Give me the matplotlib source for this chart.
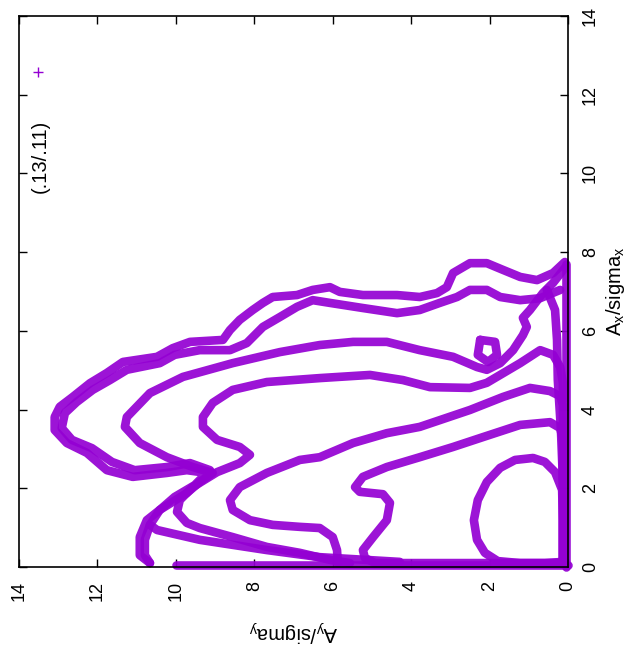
import matplotlib
matplotlib.use("Agg")
import matplotlib.pyplot as plt
import numpy as np

plt.rcParams['font.family'] = ['Liberation Sans', 'DejaVu Sans']
plt.rcParams['mathtext.fontset'] = 'custom'
plt.rcParams['mathtext.rm'] = 'Liberation Sans'

COLOR = '#9400D3'

# ---- data: contour traces (A_y/sigma_y, A_x/sigma_x) ----
c1_ay = [0.13, 0.13, 0.15, 0.33, 0.59, 0.89, 1.35, 1.73, 2.07, 2.30, 2.40, 2.32, 2.12, 1.79, 1.22, 0.59, 0.13]
c1_ax = [0.13, 1.19, 1.96, 2.41, 2.67, 2.77, 2.72, 2.52, 2.16, 1.70, 1.19, 0.69, 0.36, 0.15, 0.10, 0.10, 0.13]

c2_ay = [0.13, 0.13, 0.20, 0.46, 1.22, 2.17, 2.93, 3.78, 4.62, 5.23, 5.43, 5.31, 4.72, 4.54, 4.62, 4.97, 5.23, 5.18, 4.92, 3.01, 0.13]
c2_ax = [0.13, 3.23, 3.53, 3.68, 3.61, 3.30, 3.05, 2.79, 2.54, 2.29, 2.03, 1.91, 1.85, 1.63, 1.19, 0.76, 0.43, 0.23, 0.10, 0.10, 0.10]

c3_ay = [0.13, 0.13, 0.20, 0.46, 0.97, 1.66, 2.50, 3.78, 4.62, 5.48, 6.33, 6.84, 7.68, 8.37, 8.62, 8.55, 8.11, 7.53, 6.84, 6.33, 6.00, 5.89, 5.87]
c3_ax = [0.10, 4.12, 4.34, 4.47, 4.55, 4.32, 3.99, 3.56, 3.40, 3.15, 2.79, 2.72, 2.39, 2.03, 1.70, 1.45, 1.19, 1.07, 1.02, 0.99, 0.76, 0.43, 0.10]

c4_ay = [0.13, 0.13, 0.20, 0.38, 0.71, 1.22, 2.07, 2.50, 3.52, 4.21, 5.05, 6.33, 7.68, 8.55, 9.06, 9.31, 9.31, 8.95, 8.37, 8.11, 8.37, 8.95, 9.57, 9.90, 9.97, 9.72, 9.39, 8.55, 7.68, 6.84, 6.07, 5.56]
c4_ax = [4.24, 4.68, 5.08, 5.39, 5.51, 5.18, 4.68, 4.55, 4.57, 4.75, 4.88, 4.80, 4.70, 4.50, 4.17, 3.81, 3.56, 3.23, 3.05, 2.85, 2.64, 2.41, 2.03, 1.70, 1.40, 1.12, 0.99, 0.76, 0.51, 0.36, 0.18, 0.10]

c5_ay = [0.08, 0.38, 0.64, 0.97, 1.15, 1.05, 1.15, 1.40, 1.73, 2.07, 2.32, 2.93, 3.78, 4.62, 5.48, 6.33, 7.35, 8.55, 9.82, 10.66, 11.25, 11.30, 10.92, 10.23, 9.57, 9.06, 9.39, 9.72, 10.41, 10.74, 10.92, 10.92, 10.66]
c5_ax = [7.60, 7.22, 6.96, 6.53, 6.33, 6.10, 5.89, 5.51, 5.18, 5.01, 5.08, 5.34, 5.51, 5.72, 5.72, 5.64, 5.46, 5.18, 4.83, 4.42, 3.81, 3.56, 3.15, 2.79, 2.54, 2.39, 2.16, 1.88, 1.45, 1.19, 0.76, 0.30, 0.10]

c6_ay = [0.08, 0.38, 0.79, 1.22, 1.66, 2.07, 2.50, 2.93, 3.09, 3.34, 3.78, 4.36, 5.23, 5.82, 6.07, 6.51, 6.91, 7.53, 7.78, 8.04, 8.37, 8.62, 8.80, 9.64, 10.08, 10.48, 11.35, 11.76, 12.19, 12.63, 12.96, 13.09, 13.09, 12.78, 12.27, 11.76, 11.10, 10.23, 9.72, 9.21, 9.52, 10.03, 10.41, 10.66, 10.79, 10.79, 10.66]
c6_ax = [7.75, 7.47, 7.29, 7.37, 7.55, 7.72, 7.72, 7.47, 7.11, 6.96, 6.86, 6.91, 6.91, 6.99, 7.11, 7.04, 6.91, 6.86, 6.71, 6.53, 6.28, 6.02, 5.77, 5.72, 5.56, 5.34, 5.21, 4.93, 4.67, 4.32, 4.07, 3.81, 3.48, 3.15, 2.90, 2.46, 2.29, 2.39, 2.46, 2.39, 2.08, 1.78, 1.45, 1.07, 0.69, 0.30, 0.10]

c7_ay = [0.20, 0.71, 1.22, 1.73, 2.07, 2.50, 2.83, 3.27, 3.78, 4.36, 5.23, 6.07, 6.51, 6.91, 7.35, 7.78, 8.19, 8.62, 9.39, 10.03, 10.41, 11.25, 11.68, 12.12, 12.53, 12.83, 12.91, 12.65, 12.14, 11.63, 11.05, 10.23, 9.64, 9.13]
c7_ax = [7.04, 6.83, 6.78, 6.86, 7.04, 7.04, 6.86, 6.71, 6.53, 6.45, 6.58, 6.71, 6.78, 6.61, 6.35, 6.10, 5.69, 5.51, 5.51, 5.39, 5.18, 5.01, 4.75, 4.50, 4.19, 3.91, 3.53, 3.23, 3.02, 2.67, 2.46, 2.54, 2.64, 2.46]

c8_ay = [10.66, 10.48, 9.39, 7.68, 6.33, 4.29]
c8_ax = [1.07, 0.94, 0.69, 0.43, 0.25, 0.13]

c9_ay = [0.54, 0.33, 0.28, 0.26, 0.18, 0.13]
c9_ax = [7.04, 6.53, 5.77, 4.75, 3.48, 2.21]

blob_ay = [2.24, 1.86, 1.81, 2.04, 2.30, 2.24]
blob_ax = [5.77, 5.72, 5.39, 5.21, 5.39, 5.77]

edge_bottom_ay = [0.0, 10.0]
edge_bottom_ax = [0.05, 0.05]
edge_right_ay = [0.05, 0.05]
edge_right_ax = [0.0, 7.7]

key_label = '(.13/.11)'
xticks = [0, 2, 4, 6, 8, 10, 12, 14]
yticks = [0, 2, 4, 6, 8, 10, 12, 14]

fig = plt.figure(figsize=(6.36, 6.63), dpi=100)
ax = fig.add_axes([19/636, 1 - 567/663, (568-19)/636, (567-16)/663])

curves = [(c1_ay, c1_ax), (c2_ay, c2_ax), (c3_ay, c3_ax), (c4_ay, c4_ax),
          (c5_ay, c5_ax), (c6_ay, c6_ax), (c7_ay, c7_ax), (c8_ay, c8_ax),
          (c9_ay, c9_ax), (blob_ay, blob_ax),
          (edge_bottom_ay, edge_bottom_ax), (edge_right_ay, edge_right_ax)]
for cy, cx in curves:
    ax.plot(cy, cx, '-', color=COLOR, lw=6.2, solid_capstyle='round',
            solid_joinstyle='round', alpha=0.92, clip_on=False, zorder=2)

ax.set_xlim(14, 0)
ax.set_ylim(0, 14)
ax.set_xticks(xticks)
ax.set_yticks(yticks)
ax.set_xticklabels([str(t) for t in xticks], rotation=90, fontsize=13)
ax.set_yticklabels([str(t) for t in yticks], rotation=90, fontsize=13, va='center')
ax.tick_params(axis='both', direction='in', length=6, width=1, pad=10,
               top=True, bottom=True, left=True, right=True,
               labelleft=False, labelright=True, labelbottom=True, labeltop=False)
for s in ax.spines.values():
    s.set_linewidth(1.2)
    s.set_zorder(5)

ax.set_xlabel(r'A$_\mathregular{y}$/sigma$_\mathregular{y}$', rotation=180, fontsize=14.5, labelpad=12)
ax.yaxis.set_label_position('right')
ax.set_ylabel(r'A$_\mathregular{x}$/sigma$_\mathregular{x}$', rotation=90, fontsize=14.5, labelpad=4)

# key (rotated like the rest of the chart)
ax.text(0.038, 0.745, key_label, transform=ax.transAxes, rotation=90,
        ha='center', va='center', fontsize=14.5)
ax.plot([0.035], [0.898], '+', color=COLOR, ms=7, mew=1, transform=ax.transAxes)

fig.savefig('out.png', dpi=100)
